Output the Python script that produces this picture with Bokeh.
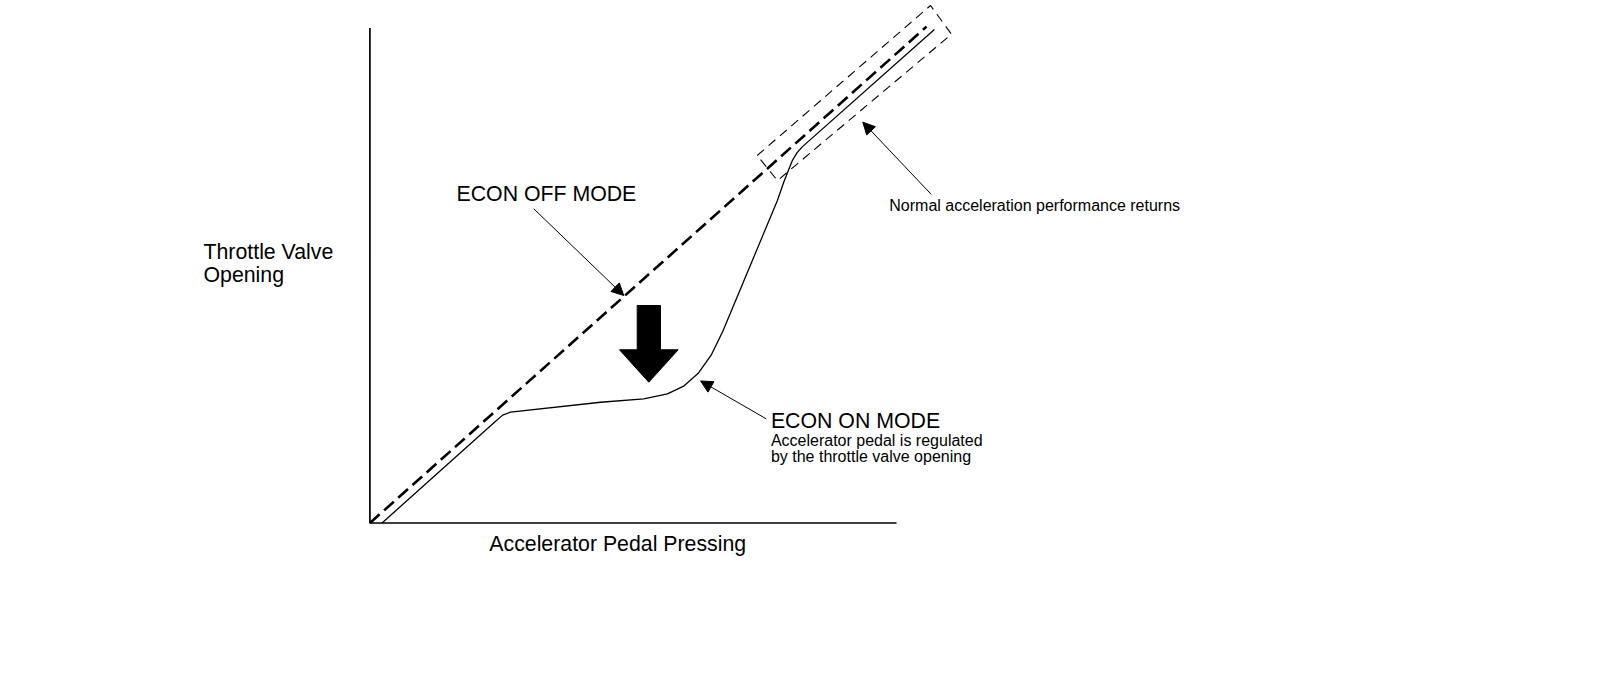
from bokeh.plotting import figure
from bokeh.models import Range1d, Arrow, NormalHead, ColumnDataSource
from bokeh.core.properties import value
from bokeh.embed import file_html
from bokeh.resources import INLINE

# ---- data (units: % of axis length) ----
axis_x = [0, 0, 100]
axis_y = [100, 0, 0]

econ_off_x = [0, 105.7]
econ_off_y = [0, 100.3]

econ_on_x = [2.3, 23.5, 25.2, 26.7, 43.8, 52.0, 56.5, 59.5, 62.3, 64.8, 67.0, 77.4, 78.6, 80.2, 81.1, 82.1, 107.2]
econ_on_y = [0.0, 20.2, 21.8, 22.4, 24.4, 25.1, 26.1, 27.6, 30.2, 33.9, 38.7, 65.2, 68.9, 73.2, 74.8, 76.0, 99.7]

box_x = [73.55, 106.46, 110.44, 77.4, 73.55]
box_y = [74.26, 104.57, 98.77, 69.2, 74.26]

down_arrow_x = [50.76, 55.18, 55.18, 58.54, 52.96, 47.4, 50.76, 50.76]
down_arrow_y = [43.95, 43.95, 35.0, 35.0, 28.45, 35.0, 35.0, 43.95]

pointer_start_x = [31.12, 75.27, 106.6]
pointer_start_y = [63.49, 21.04, 66.4]
pointer_end_x = [48.21, 62.79, 93.6]
pointer_end_y = [45.97, 28.71, 81.0]

big_labels = ["Throttle Valve", "Opening", "ECON OFF MODE", "Accelerator Pedal Pressing", "ECON ON MODE"]
big_x = [-31.6, -31.6, 16.44, 22.67, 76.15]
big_y = [54.66, 50.11, 66.38, -4.34, 20.63]

small_labels = ["Accelerator pedal is regulated", "by the throttle valve opening", "Normal acceleration performance returns"]
small_x = [76.15, 76.15, 98.63]
small_y = [16.71, 13.44, 64.13]

W, H = 1584, 672
p = figure(width=W, height=H, output_backend="svg", toolbar_location=None,
           x_range=Range1d(-70.15, 230.65), y_range=Range1d(-30.21, 105.58),
           min_border=0, min_border_left=0, min_border_right=0, min_border_top=0, min_border_bottom=0)
p.axis.visible = False
p.grid.visible = False
p.outline_line_color = None
p.background_fill_color = "white"
p.border_fill_color = "white"

p.line(axis_x, axis_y, line_color="black", line_width=1.7)
p.line(econ_off_x, econ_off_y, line_color="black", line_width=2.6, line_dash="13 6")
p.line(econ_on_x, econ_on_y, line_color="black", line_width=1.3)
p.line(box_x, box_y, line_color="black", line_width=1.1, line_dash="9 6")
p.patch(down_arrow_x, down_arrow_y, fill_color="black", line_color="black", line_width=1)

for sx, sy, ex, ey in zip(pointer_start_x, pointer_start_y, pointer_end_x, pointer_end_y):
    p.add_layout(Arrow(end=NormalHead(size=12, fill_color="black", line_color="black", line_width=1),
                       x_start=sx, y_start=sy, x_end=ex, y_end=ey,
                       line_color="black", line_width=1))

src_big = ColumnDataSource(dict(x=big_x, y=big_y, t=big_labels))
p.text(x="x", y="y", text="t", source=src_big, text_font=value("Liberation Sans"),
       text_font_size="21.3px", text_baseline="middle", text_align="left", text_color="black")
src_small = ColumnDataSource(dict(x=small_x, y=small_y, t=small_labels))
p.text(x="x", y="y", text="t", source=src_small, text_font=value("Liberation Sans"),
       text_font_size="16px", text_baseline="middle", text_align="left", text_color="black")

open("out.html", "w").write(file_html(p, INLINE))
